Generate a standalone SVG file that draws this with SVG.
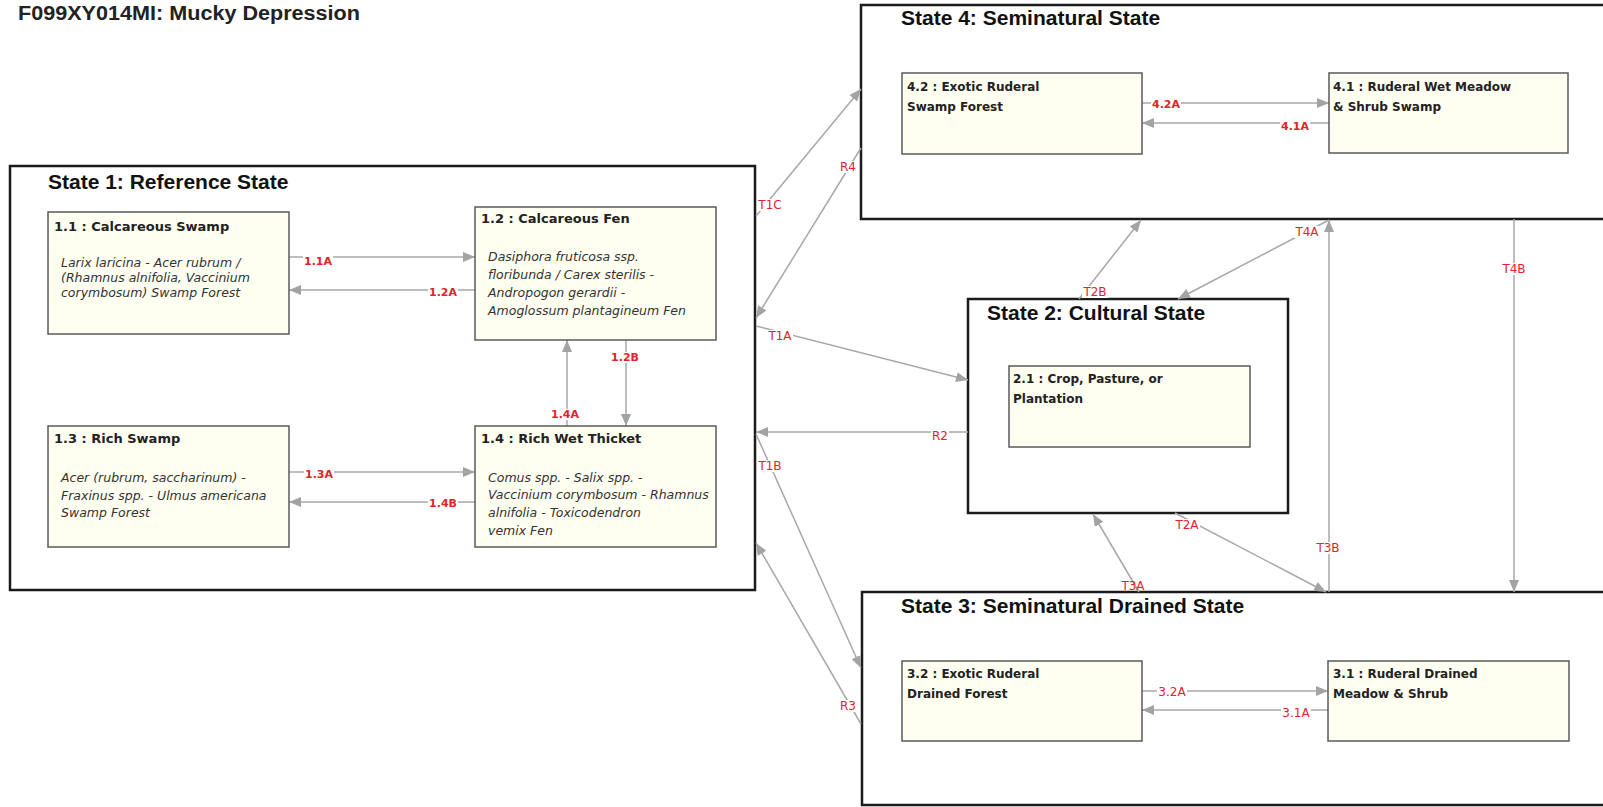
<svg xmlns="http://www.w3.org/2000/svg" width="1603" height="807" viewBox="0 0 1603 807">
<style>
.state{fill:#fff;stroke:#1b1b1b;stroke-width:2.5}
.node{fill:#FEFEF1;stroke:#5a5a5a;stroke-width:1.5}
.main{font-family:"Liberation Sans",Arial,sans-serif;font-weight:bold;font-size:20px;fill:#222}
.stitle{font-family:"Liberation Sans",Arial,sans-serif;font-weight:bold;font-size:21px;fill:#111}
.nt{font-family:"DejaVu Sans",sans-serif;font-weight:bold;font-size:13px;fill:#222}
.nt2{font-family:"DejaVu Sans",sans-serif;font-weight:bold;font-size:12px;fill:#222}
.desc{font-family:"DejaVu Sans",sans-serif;font-style:italic;font-size:12.5px;fill:#333}
.conn{stroke:#A8A8A8;stroke-width:1.5;fill:none;marker-end:url(#arr)}
.lb{fill:#fff}
.lbl{font-family:"DejaVu Sans",sans-serif;font-size:12px;fill:#E3222A;text-anchor:middle}
.b{font-weight:bold;font-size:11px}
</style>
<defs>
<marker id="arr" markerWidth="12" markerHeight="10" refX="12" refY="5" orient="auto" markerUnits="userSpaceOnUse">
<path d="M0,0 L12,5 L0,10 z" fill="#A3A3A3"/>
</marker>
</defs>
<rect width="1603" height="807" fill="#fff"/>
<text class="main" x="18" y="20" textLength="342" lengthAdjust="spacingAndGlyphs">F099XY014MI: Mucky Depression</text>

<g id="state1"><rect class="state" x="10" y="166" width="745" height="424"/><text class="stitle" x="48" y="189">State 1: Reference State</text></g>
<g id="state4"><rect class="state" x="861" y="5" width="800" height="214"/><text class="stitle" x="901" y="25">State 4: Seminatural State</text></g>
<g id="state2"><rect class="state" x="968" y="299" width="320" height="214"/><text class="stitle" x="987" y="320">State 2: Cultural State</text></g>
<g id="state3"><rect class="state" x="862" y="592" width="800" height="213"/><text class="stitle" x="901" y="613">State 3: Seminatural Drained State</text></g>

<g id="connectors">
<line class="conn" x1="289" y1="257" x2="475" y2="257"/>
<line class="conn" x1="475" y1="290" x2="289" y2="290"/>
<line class="conn" x1="289" y1="472" x2="475" y2="472"/>
<line class="conn" x1="475" y1="502" x2="289" y2="502"/>
<line class="conn" x1="567" y1="426" x2="567" y2="340"/>
<line class="conn" x1="626" y1="340" x2="626" y2="426"/>
<line class="conn" x1="1142" y1="103" x2="1329" y2="103"/>
<line class="conn" x1="1329" y1="123" x2="1142" y2="123"/>
<line class="conn" x1="1142" y1="691" x2="1328" y2="691"/>
<line class="conn" x1="1328" y1="710" x2="1142" y2="710"/>
<line class="conn" x1="756" y1="216" x2="861" y2="89"/>
<line class="conn" x1="861" y1="148" x2="756" y2="318"/>
<line class="conn" x1="756" y1="326" x2="968" y2="380"/>
<line class="conn" x1="968" y1="432" x2="756" y2="432"/>
<line class="conn" x1="756" y1="434" x2="861" y2="668"/>
<line class="conn" x1="861" y1="724" x2="756" y2="543"/>
<line class="conn" x1="1079" y1="299" x2="1141" y2="220"/>
<line class="conn" x1="1329" y1="220" x2="1178" y2="299"/>
<line class="conn" x1="1514" y1="219" x2="1514" y2="592"/>
<line class="conn" x1="1329" y1="592" x2="1329" y2="220"/>
<line class="conn" x1="1175" y1="513" x2="1326" y2="592"/>
<line class="conn" x1="1139" y1="592" x2="1093" y2="514"/>

<rect class="lb" x="303" y="256" width="30" height="11"/><text class="lbl b" x="318" y="265">1.1A</text>
<rect class="lb" x="428" y="287" width="30" height="11"/><text class="lbl b" x="443" y="296">1.2A</text>
<rect class="lb" x="304" y="469" width="30" height="11"/><text class="lbl b" x="319" y="478">1.3A</text>
<rect class="lb" x="428" y="498" width="30" height="11"/><text class="lbl b" x="443" y="507">1.4B</text>
<rect class="lb" x="550" y="409" width="30" height="11"/><text class="lbl b" x="565" y="418">1.4A</text>
<rect class="lb" x="610" y="352" width="30" height="11"/><text class="lbl b" x="625" y="361">1.2B</text>
<rect class="lb" x="1151" y="99" width="30" height="11"/><text class="lbl b" x="1166" y="108">4.2A</text>
<rect class="lb" x="1280" y="121" width="30" height="11"/><text class="lbl b" x="1295" y="130">4.1A</text>
<rect class="lb" x="1157" y="686" width="30" height="12"/><text class="lbl" x="1172" y="696">3.2A</text>
<rect class="lb" x="1281" y="707" width="30" height="12"/><text class="lbl" x="1296" y="717">3.1A</text>
<rect class="lb" x="757" y="199" width="26" height="12"/><text class="lbl" x="770" y="209">T1C</text>
<rect class="lb" x="839" y="161" width="18" height="12"/><text class="lbl" x="848" y="171">R4</text>
<rect class="lb" x="767" y="330" width="26" height="12"/><text class="lbl" x="780" y="340">T1A</text>
<rect class="lb" x="931" y="430" width="18" height="12"/><text class="lbl" x="940" y="440">R2</text>
<rect class="lb" x="757" y="460" width="26" height="12"/><text class="lbl" x="770" y="470">T1B</text>
<rect class="lb" x="839" y="700" width="18" height="12"/><text class="lbl" x="848" y="710">R3</text>
<rect class="lb" x="1082" y="286" width="26" height="12"/><text class="lbl" x="1095" y="296">T2B</text>
<rect class="lb" x="1294" y="226" width="26" height="12"/><text class="lbl" x="1307" y="236">T4A</text>
<rect class="lb" x="1501" y="263" width="26" height="12"/><text class="lbl" x="1514" y="273">T4B</text>
<rect class="lb" x="1315" y="542" width="26" height="12"/><text class="lbl" x="1328" y="552">T3B</text>
<rect class="lb" x="1174" y="519" width="26" height="12"/><text class="lbl" x="1187" y="529">T2A</text>
<text class="lbl" x="1133" y="590">T3A</text>
</g>

<g id="n11"><rect class="node" x="48" y="212" width="241" height="122"/>
<text class="nt" x="54" y="231">1.1 : Calcareous Swamp</text>
<text class="desc" x="61" y="267">Larix laricina - Acer rubrum /</text>
<text class="desc" x="61" y="282">(Rhamnus alnifolia, Vaccinium</text>
<text class="desc" x="61" y="297">corymbosum) Swamp Forest</text></g>
<g id="n12"><rect class="node" x="475" y="207" width="241" height="133"/>
<text class="nt" x="481" y="223">1.2 : Calcareous Fen</text>
<text class="desc" x="488" y="261">Dasiphora fruticosa ssp.</text>
<text class="desc" x="488" y="279">floribunda / Carex sterilis -</text>
<text class="desc" x="488" y="297">Andropogon gerardii -</text>
<text class="desc" x="488" y="315">Amoglossum plantagineum Fen</text></g>
<g id="n13"><rect class="node" x="48" y="426" width="241" height="121"/>
<text class="nt" x="54" y="443">1.3 : Rich Swamp</text>
<text class="desc" x="61" y="482">Acer (rubrum, saccharinum) -</text>
<text class="desc" x="61" y="500">Fraxinus spp. - Ulmus americana</text>
<text class="desc" x="61" y="517">Swamp Forest</text></g>
<g id="n14"><rect class="node" x="475" y="426" width="241" height="121"/>
<text class="nt" x="481" y="443">1.4 : Rich Wet Thicket</text>
<text class="desc" x="488" y="482">Comus spp. - Salix spp. -</text>
<text class="desc" x="488" y="499">Vaccinium corymbosum - Rhamnus</text>
<text class="desc" x="488" y="517">alnifolia - Toxicodendron</text>
<text class="desc" x="488" y="535">vemix Fen</text></g>
<g id="n42"><rect class="node" x="902" y="73" width="240" height="81"/>
<text class="nt2" x="907" y="91">4.2 : Exotic Ruderal</text>
<text class="nt2" x="907" y="111">Swamp Forest</text></g>
<g id="n41"><rect class="node" x="1329" y="73" width="239" height="80"/>
<text class="nt2" x="1333" y="91">4.1 : Ruderal Wet Meadow</text>
<text class="nt2" x="1333" y="111">&amp; Shrub Swamp</text></g>
<g id="n21"><rect class="node" x="1009" y="366" width="241" height="81"/>
<text class="nt2" x="1013" y="383">2.1 : Crop, Pasture, or</text>
<text class="nt2" x="1013" y="403">Plantation</text></g>
<g id="n32"><rect class="node" x="902" y="661" width="240" height="80"/>
<text class="nt2" x="907" y="678">3.2 : Exotic Ruderal</text>
<text class="nt2" x="907" y="698">Drained Forest</text></g>
<g id="n31"><rect class="node" x="1328" y="661" width="241" height="80"/>
<text class="nt2" x="1333" y="678">3.1 : Ruderal Drained</text>
<text class="nt2" x="1333" y="698">Meadow &amp; Shrub</text></g>
</svg>
